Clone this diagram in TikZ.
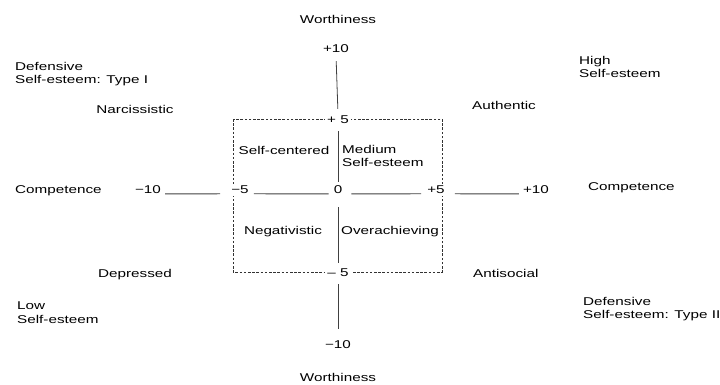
\documentclass[tikz,border=0pt]{standalone}
\usepackage{fontspec}
\setmainfont[FakeStretch=1.35]{Liberation Sans}
\begin{document}
\begin{tikzpicture}[x=1pt,y=-1pt,
  lbl/.style={font=\fontsize{11.3}{13.2}\selectfont, text=black, inner sep=2pt},
  tick/.style={lbl, fill=white},
  axis/.style={draw=black!75, line width=0.8pt},
  box/.style={draw=black!80, line width=0.6pt, dash pattern=on 2.6pt off 1.6pt}]
\useasboundingbox (0,0) rectangle (720,384);
% dashed box
\coordinate (bnw) at (233,119);
\coordinate (bse) at (442,272);
\draw[box] (bnw) rectangle (bse);
% vertical axis labels
\node[lbl] (wtop) at (338,19) {Worthiness};
\node[lbl] (vp10) at (336,49) {+10};
\node[tick] (vp5) at (338,120) {+ 5};
\node[tick] (zero) at (338,190) {0};
\node[tick] (vm5) at (338,273) {– 5};
\node[lbl] (vm10) at (338,345) {−10};
\node[lbl] (wbot) at (338,377) {Worthiness};
% horizontal axis labels
\node[lbl, anchor=west] (cleft) at (13,191) {Competence};
\node[lbl] (hm10) at (148,190) {−10};
\node[tick] (hm5) at (240,190) {−5};
\node[tick] (hp5) at (436,190) {+5};
\node[lbl] (hp10) at (536,190) {+10};
\node[lbl, anchor=west] (cright) at (586,188) {Competence};
% vertical axis
\draw[axis, shorten <=6pt, shorten >=5pt] (vp10.south) -- (vp5.north);
\draw[axis, shorten <=5pt, shorten >=2pt] (vp5.south) -- (zero.north);
\draw[axis, shorten <=11pt, shorten >=4pt] (zero.south) -- (vm5.north);
\draw[axis, shorten <=5pt, shorten >=10pt] (vm5.south) -- (vm10.north);
% horizontal axis
\draw[axis, shorten <=2pt, shorten >=9pt] (hm10.base east) -- (hm5.base west);
\draw[axis, shorten <=3pt, shorten >=3pt] (hm5.base east) -- (zero.base west);
\draw[axis, shorten <=7pt, shorten >=4pt] (zero.base east) -- (hp5.base west);
\draw[axis, shorten <=8pt, shorten >=2pt] (hp5.base east) -- (hp10.base west);
% corner labels
\node[lbl, anchor=north west, align=left] (dtype1) at (13,60) {Defensive\\Self-esteem: Type I};
\node[lbl, anchor=north west, align=left] (high) at (577,54) {High\\Self-esteem};
\node[lbl, anchor=north west, align=left] (low) at (15,300) {Low\\Self-esteem};
\node[lbl, anchor=north west, align=left] (dtype2) at (581,295) {Defensive\\Self-esteem: Type II};
% outer quadrant labels
\node[lbl] (narc) at (135,109) {Narcissistic};
\node[lbl, anchor=west] (auth) at (470,105) {Authentic};
\node[lbl] (depr) at (135,275) {Depressed};
\node[lbl, anchor=west] (anti) at (471,273) {Antisocial};
% inner quadrant labels
\node[lbl] (selfc) at (284,150) {Self-centered};
\node[lbl, anchor=north west, align=left] (medium) at (340,143) {Medium\\Self-esteem};
\node[lbl] (neg) at (283,232) {Negativistic};
\node[lbl] (over) at (390,232) {Overachieving};
\end{tikzpicture}
\end{document}
